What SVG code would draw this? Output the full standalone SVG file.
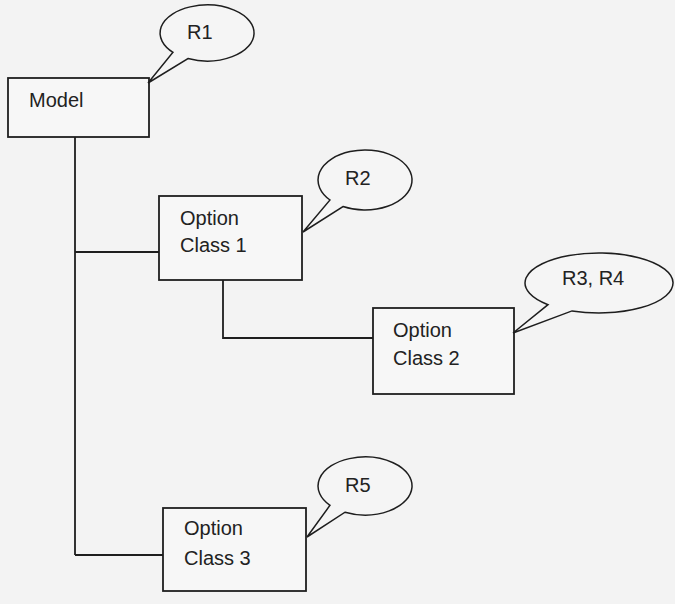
<svg xmlns="http://www.w3.org/2000/svg" width="675" height="604" viewBox="0 0 675 604">
<style>
.box{fill:#f7f7f7;stroke:#1e1e1e;stroke-width:1.8}
.call{fill:#f5f5f5;stroke:#1e1e1e;stroke-width:1.5;stroke-linejoin:miter}
.conn{fill:none;stroke:#1e1e1e;stroke-width:1.8}
text{font-family:"Liberation Sans",Arial,sans-serif;font-size:20px;fill:#222}
</style>
<rect width="675" height="604" fill="#f3f3f3"/>
<g id="connectors">
<path class="conn" d="M75,137 V555 M75,252 H159 M75,555 H163 M223,280 V338 H373"/>
</g>
<g id="model">
<rect class="box" x="8" y="78" width="141" height="59"/>
<text x="29" y="107">Model</text>
</g>
<g id="r1">
<path class="call" d="M173,52.3 A47,28 0 1 1 188,58.6 L148,83 Z"/>
<text x="187" y="39">R1</text>
</g>
<g id="option-class-1">
<rect class="box" x="159" y="196" width="143" height="84"/>
<text x="180" y="225">Option</text>
<text x="180" y="252">Class 1</text>
</g>
<g id="r2">
<path class="call" d="M330,200 A47,30 0 1 1 343,206.5 L303,232 Z"/>
<text x="345" y="185">R2</text>
</g>
<g id="option-class-2">
<rect class="box" x="373" y="308" width="141" height="86"/>
<text x="393" y="337">Option</text>
<text x="393" y="365">Class 2</text>
</g>
<g id="r3-r4">
<path class="call" d="M548,304.7 A74,30 0 1 1 572,310.9 L513,333 Z"/>
<text x="562" y="285">R3, R4</text>
</g>
<g id="option-class-3">
<rect class="box" x="163" y="508" width="143" height="83"/>
<text x="184" y="535">Option</text>
<text x="184" y="565">Class 3</text>
</g>
<g id="r5">
<path class="call" d="M330,505.3 A47,29 0 1 1 345,512.2 L307,537 Z"/>
<text x="345" y="492">R5</text>
</g>
</svg>
